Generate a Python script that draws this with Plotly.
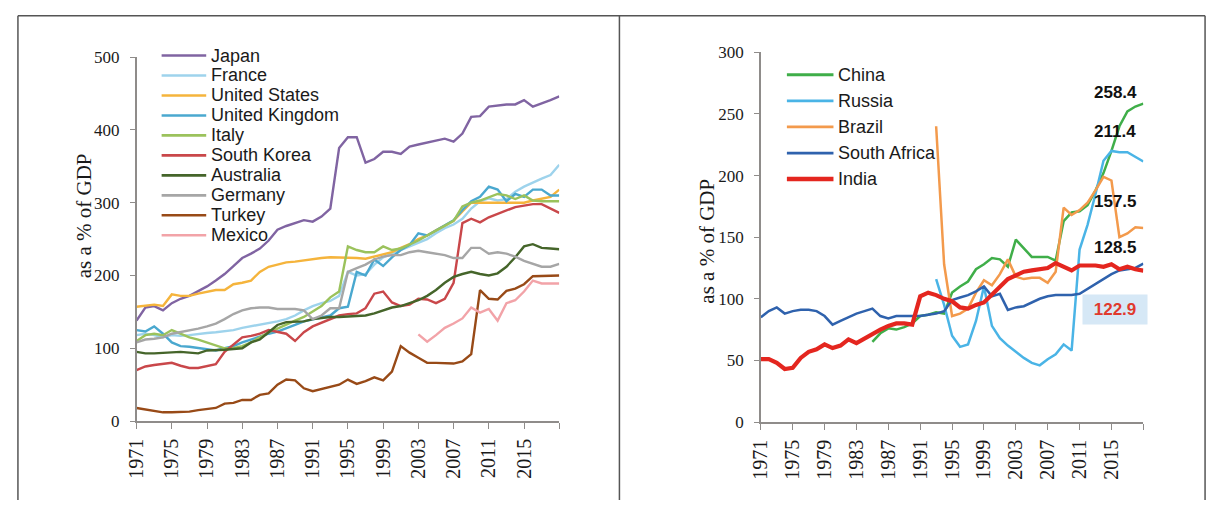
import plotly.graph_objects as go

W, H = 1212, 510

years = list(range(1971, 2020))
tick_years = list(range(1971, 2020, 4))
tick_text = [str(y) if y < 2019 else "" for y in tick_years]

# ---------------- left panel ----------------
left_names = ["Japan", "France", "United States", "United Kingdom", "Italy",
              "South Korea", "Australia", "Germany", "Turkey", "Mexico"]

japan = [138, 156, 158, 152, 162, 168, 172, 178, 185, 193,
         202, 213, 224, 230, 237, 248, 263, 268, 272, 276,
         274, 281, 292, 375, 390, 390, 355, 360, 370, 370,
         367, 377, 380, 383, 386, 388, 384, 395, 418, 419,
         432, 434, 435, 435, 441, 432, 436, 441, 446]
france = [118, 120, 118, 115, 118, 117, 118, 120, 121, 122,
          123, 125, 128, 130, 133, 135, 137, 140, 145, 152,
          158, 162, 165, 172, 205, 200, 202, 215, 225, 230,
          235, 240, 245, 250, 258, 265, 270, 278, 292, 302,
          306, 303, 305, 315, 322, 328, 333, 338, 352]
united_states = [157, 159, 160, 158, 174, 172, 172, 175, 177, 180,
                 180, 188, 190, 193, 205, 212, 215, 218, 219, 221,
                 223, 224, 225, 225, 224, 224, 223, 226, 230, 232,
                 238, 243, 250, 255, 262, 268, 275, 288, 300, 300,
                 300, 300, 300, 300, 300, 303, 305, 308, 318]
united_kingdom = [125, 123, 130, 120, 108, 103, 102, 100, 98, 97,
                  100, 103, 108, 112, 117, 120, 123, 127, 132, 137,
                  140, 142, 145, 155, 157, 205, 200, 222, 213, 225,
                  235, 242, 258, 255, 262, 270, 276, 290, 302, 308,
                  322, 318, 302, 312, 308, 318, 318, 310, 310]
italy = [110, 118, 120, 118, 125, 120, 115, 112, 108, 103,
         100, 100, 103, 108, 115, 122, 127, 133, 138, 143,
         150, 158, 170, 178, 240, 235, 232, 232, 240, 235,
         237, 242, 248, 255, 262, 268, 275, 295, 300, 303,
         308, 312, 310, 305, 310, 303, 302, 302, 302]
south_korea = [70, 75, 77, 78, 80, 76, 73, 73, 75, 78,
               95, 105, 115, 117, 120, 125, 122, 120, 110, 122,
               130, 135, 140, 145, 147, 148, 155, 175, 178, 163,
               158, 160, 168, 167, 162, 168, 190, 272, 278, 273,
               280, 285, 290, 294, 296, 298, 298, 292, 286]
australia = [95, 93, 93, 94, 94, 95, 94, 93, 97, 97,
             98, 99, 100, 108, 112, 122, 132, 136, 137, 137,
             140, 142, 143, 143, 144, 144, 145, 148, 152, 156,
             158, 162, 166, 172, 180, 190, 198, 202, 205, 202,
             200, 203, 212, 225, 240, 243, 238, 237, 236]
germany = [108, 112, 113, 115, 120, 122, 124, 127, 130, 134,
           140, 147, 152, 155, 156, 156, 154, 154, 154, 152,
           140, 145, 155, 155, 205, 210, 215, 222, 226, 228,
           228, 232, 234, 232, 230, 228, 224, 224, 238, 238,
           230, 232, 230, 226, 220, 216, 212, 212, 216]
turkey = [18, 16, 14, 12, 12, 12, 13, 15, 16, 18,
          24, 25, 29, 29, 36, 38, 50, 57, 56, 45,
          41, 44, 47, 50, 57, 51, 55, 60, 56, 68,
          103, 94, 87, 80, 80, 80, 79, 82, 92, 180,
          168, 167, 179, 182, 188, 199, 199, 200, 200]
mexico_start = 2003
mexico = [119, 109, 118, 128, 134, 141, 156, 149, 154, 138,
          162, 166, 178, 193, 189, 189, 189]

left_colors = ["#8064a2", "#9ed3ec", "#f5b43c", "#4aa8cf", "#9bc25c",
               "#c9474a", "#45652a", "#a6a6a6", "#984a17", "#f2a3a8"]

# ---------------- right panel ----------------
right_names = ["China", "Russia", "Brazil", "South Africa", "India"]

china_start = 1985
china = [65, 72, 76, 75, 77, 80, 86, 87, 89, 88,
         105, 110, 114, 124, 128, 133, 132, 126, 148, 141,
         134, 134, 134, 131, 163, 170, 171, 176, 188, 202,
         220, 240, 252, 256, 258.4]
russia_start = 1993
russia = [116, 95, 70, 61, 63, 82, 110, 78, 68, 62,
          57, 52, 48, 46, 51, 55, 63, 58, 140, 160,
          185, 212, 220, 219, 219, 215, 211.4]
brazil_start = 1993
brazil = [240, 128, 86, 88, 92, 105, 115, 111, 120, 132,
          118, 116, 117, 117, 113, 122, 174, 168, 172, 178,
          188, 199, 196, 150, 153, 158, 157.5]
south_africa = [85, 90, 93, 88, 90, 91, 91, 90, 86, 79,
                82, 85, 88, 90, 92, 86, 84, 86, 86, 86,
                86, 87, 88, 90, 99, 101, 103, 106, 110, 102,
                104, 91, 93, 94, 97, 100, 102, 103, 103, 103,
                104, 108, 112, 116, 120, 123, 124, 125, 128.5]
india = [51, 51, 48, 43, 44, 52, 57, 59, 63, 60,
         62, 67, 64, 68, 71, 75, 78, 80, 80, 79,
         102, 105, 103, 100, 98, 93, 92, 95, 97, 103,
         110, 116, 119, 122, 123, 124, 125, 129, 126, 123,
         127, 127, 127, 126, 128, 124, 126, 124, 122.9]

right_colors = ["#3fae49", "#4ab4e6", "#f39a4c", "#2f62ad", "#e4261f"]
right_widths = [2.5, 2.5, 2.5, 2.5, 4.2]

end_labels = ["258.4", "211.4", "157.5", "128.5", "122.9"]
end_label_y = [267, 236, 179, 142, 91.5]


def pad(start, vals):
    return [None] * (start - years[0]) + list(vals)


left_series = [japan, france, united_states, united_kingdom, italy,
               south_korea, australia, germany, turkey, pad(mexico_start, mexico)]
right_series = [pad(china_start, china), pad(russia_start, russia),
                pad(brazil_start, brazil), south_africa, india]

fig = go.Figure()
for name, vals, col in zip(left_names, left_series, left_colors):
    fig.add_trace(go.Scatter(x=years, y=vals, name=name, mode="lines",
                             line=dict(color=col, width=2.4),
                             xaxis="x", yaxis="y", showlegend=False))
for name, vals, col, lw in zip(right_names, right_series, right_colors, right_widths):
    fig.add_trace(go.Scatter(x=years, y=vals, name=name, mode="lines",
                             line=dict(color=col, width=lw),
                             xaxis="x2", yaxis="y2", showlegend=False))


def px(x):
    return x / W


def py(y):
    return 1 - y / H


axis_grey = "#8f8c8a"
serif = "Liberation Serif, Times New Roman, serif"
sans = "Liberation Sans, Arial, sans-serif"

common_x = dict(range=[1971, 2019], tickvals=tick_years, ticktext=tick_text,
                tickangle=-90, ticks="outside", ticklen=6, tickwidth=1.3,
                tickcolor=axis_grey, showline=True, linecolor=axis_grey,
                linewidth=1.5, showgrid=False, zeroline=False,
                ticklabelstandoff=2,
                tickfont=dict(family=serif, size=20, color="#1a1a1a"))
common_y = dict(ticks="outside", ticklen=5, tickwidth=1.3, tickcolor=axis_grey,
                showline=True, linecolor=axis_grey, linewidth=1.5,
                showgrid=False, zeroline=False, ticklabelstandoff=7,
                tickfont=dict(family=serif, size=17, color="#1a1a1a"))

fig.update_layout(
    width=W, height=H,
    margin=dict(l=0, r=0, t=0, b=0),
    paper_bgcolor="white", plot_bgcolor="white",
    showlegend=False,
    xaxis=dict(domain=[px(126.7), px(553.3)], anchor="y", **common_x),
    yaxis=dict(domain=[py(428), py(50)], anchor="x", range=[0, 500],
               tickvals=[0, 100, 200, 300, 400, 500], **common_y),
    xaxis2=dict(domain=[px(756.7), px(1142.7)], anchor="y2", **common_x),
    yaxis2=dict(domain=[py(429), py(45)], anchor="x2", range=[0, 300],
                tickvals=[0, 50, 100, 150, 200, 250, 300], **common_y),
)

shapes = []
annotations = []

# frame around the two panels
frame = dict(color="#555", width=1.5)
shapes.append(dict(type="line", xref="paper", yref="paper",
                   x0=px(7), x1=px(1205), y0=py(7), y1=py(7), line=frame))
for xf in (7, 614, 1205):
    shapes.append(dict(type="line", xref="paper", yref="paper",
                       x0=px(xf), x1=px(xf), y0=py(7), y1=py(510), line=frame))

# y-axis titles
annotations.append(dict(text="as a % of GDP", xref="paper", yref="paper",
                        x=px(74), y=py(215), textangle=-90, showarrow=False,
                        font=dict(family=serif, size=21, color="#1a1a1a"),
                        xanchor="center", yanchor="middle"))
annotations.append(dict(text="as a % of GDP", xref="paper", yref="paper",
                        x=px(702), y=py(241), textangle=-90, showarrow=False,
                        font=dict(family=serif, size=21, color="#1a1a1a"),
                        xanchor="center", yanchor="middle"))

# legends: line swatch + name
for i, (name, col) in enumerate(zip(left_names, left_colors)):
    yy = 48.3 + 20.75 * i
    shapes.append(dict(type="line", xref="paper", yref="paper",
                       x0=px(152), x1=px(197), y0=py(yy), y1=py(yy),
                       line=dict(color=col, width=2.6)))
    annotations.append(dict(text=name, xref="paper", yref="paper",
                            x=px(200), y=py(yy), xanchor="left", yanchor="middle",
                            showarrow=False,
                            font=dict(family=sans, size=18, color="#1a1a1a")))
for i, (name, col, lw) in enumerate(zip(right_names, right_colors, right_widths)):
    yy = 68.3 + 27.1 * i
    shapes.append(dict(type="line", xref="paper", yref="paper",
                       x0=px(783), x1=px(830), y0=py(yy), y1=py(yy),
                       line=dict(color=col, width=lw + 0.3)))
    annotations.append(dict(text=name, xref="paper", yref="paper",
                            x=px(833), y=py(yy), xanchor="left", yanchor="middle",
                            showarrow=False,
                            font=dict(family=sans, size=18, color="#1a1a1a")))

# end-of-series value labels
for i, (lab, yv) in enumerate(zip(end_labels, end_label_y)):
    is_india = i == len(end_labels) - 1
    ann = dict(text="<b>%s</b>" % lab, xref="x2", yref="y2", x=2015.45, y=yv,
               xanchor="center", yanchor="middle", showarrow=False,
               font=dict(family=sans, size=17,
                         color="#e03a2e" if is_india else "#111"))
    if is_india:
        ann.update(bgcolor="#d6e8f6", width=62, height=27)
    annotations.append(ann)

fig.update_layout(shapes=shapes, annotations=annotations)
fig.write_html("out.html", config={"displayModeBar": False},
               post_script="document.body.style.margin='0';"
                           "document.body.style.overflow='hidden';")
